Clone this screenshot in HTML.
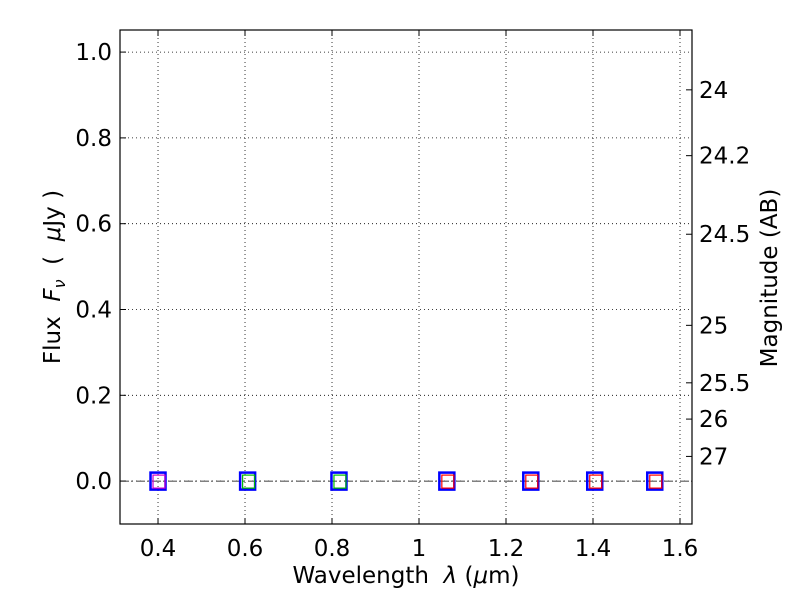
<!DOCTYPE html>
<html><head><meta charset="utf-8"><style>
body{margin:0;background:#fff;}
svg text{font-family:"DejaVu Sans","Liberation Sans",sans-serif;font-size:23px;fill:#000;white-space:pre;}
</style></head><body>
<svg id="c" width="800" height="600" xmlns="http://www.w3.org/2000/svg"></svg>
<script>
const wavelengths=[0.400,0.606,0.816,1.064,1.257,1.404,1.542];
const fluxes=[0,0,0,0,0,0,0];
const innerColors=['#cc00cc','#00bb00','#00bb00','red','red','red','red'];
const xTicks=[0.4,0.6,0.8,1.0,1.2,1.4,1.6];
const xTickLabels=['0.4','0.6','0.8','1','1.2','1.4','1.6'];
const yTicks=[0,0.2,0.4,0.6,0.8,1.0];
const yTickLabels=['0.0','0.2','0.4','0.6','0.8','1.0'];
const magTicks=[24,24.2,24.5,25,25.5,26,27];
const magLabels=['24','24.2','24.5','25','25.5','26','27'];
const L=120,R=692,T=30,B=524;
const x0=0.3126,x1=1.6276,y0=-0.1,y1=1.0515;
const sx=v=>L+(v-x0)/(x1-x0)*(R-L);
const sy=v=>B-(v-y0)/(y1-y0)*(B-T);
const svg=document.getElementById('c');
const NS='http://www.w3.org/2000/svg';
function mk(t,a,p){const e=document.createElementNS(NS,t);for(const k in a)e.setAttribute(k,a[k]);(p||svg).appendChild(e);return e;}
xTicks.forEach((v,i)=>{
const g=mk('line',{x1:sx(v),x2:sx(v),y1:T,y2:B,stroke:'#000','stroke-width':0.8,'stroke-dasharray':'1,3'});


mk('line',{x1:sx(v),x2:sx(v),y1:B,y2:B-6,stroke:'#000'});
mk('line',{x1:sx(v),x2:sx(v),y1:T,y2:T+6,stroke:'#000'});
const t=mk('text',{x:sx(v),y:B+32,'text-anchor':'middle'});t.textContent=xTickLabels[i];


});
yTicks.forEach((v,i)=>{
const g=mk('line',{x1:L,x2:R,y1:sy(v),y2:sy(v),stroke:'#000','stroke-width':0.8,'stroke-dasharray':'1,3'});


mk('line',{x1:L,x2:L+6,y1:sy(v),y2:sy(v),stroke:'#000'});
const t=mk('text',{x:L-8,y:sy(v)+8,'text-anchor':'end'});t.textContent=yTickLabels[i];


});
magTicks.forEach((m,i)=>{
const f=Math.pow(10,(23.9-m)/2.5);const y=sy(f);
mk('line',{x1:R-6,x2:R,y1:y,y2:y,stroke:'#000'});
const t=mk('text',{x:R+7,y:y+8});t.textContent=magLabels[i];


});
const z=mk('line',{x1:L,x2:R,y1:sy(0),y2:sy(0),stroke:'#000','stroke-width':0.8,'stroke-dasharray':'8,3,2,3'});


wavelengths.forEach((w,i)=>{
const cx=sx(w),cy=sy(fluxes[i]);
const o=mk('rect',{x:cx-7.5,y:cy-8.5,width:15,height:17,fill:'none',stroke:'#0000ff','stroke-width':2.5});


const n=mk('rect',{x:cx-5,y:cy-6,width:12,height:13,fill:'none',stroke:innerColors[i],'stroke-width':1.2});


});
const f=mk('rect',{x:L,y:T,width:R-L,height:B-T,fill:'none',stroke:'#000','stroke-width':1.2});


let t=mk('text',{x:406,y:583,'text-anchor':'middle'});
t.innerHTML='Wavelength\u00a0\u00a0<tspan font-style="italic">λ</tspan> (<tspan font-style="italic">μ</tspan>m)';


t=mk('text',{x:0,y:0,'text-anchor':'middle',transform:'translate(60,277) rotate(-90)'});
t.innerHTML='Flux\u00a0\u00a0<tspan font-style="italic">F</tspan><tspan font-style="italic" font-size="16" dy="5">ν</tspan><tspan dy="-5">\u00a0\u00a0(\u00a0\u00a0</tspan><tspan font-style="italic">μ</tspan>Jy )';


t=mk('text',{x:0,y:0,'text-anchor':'middle',transform:'translate(777,278) rotate(-90)'});t.textContent='Magnitude (AB)';


</script>
</body></html>
